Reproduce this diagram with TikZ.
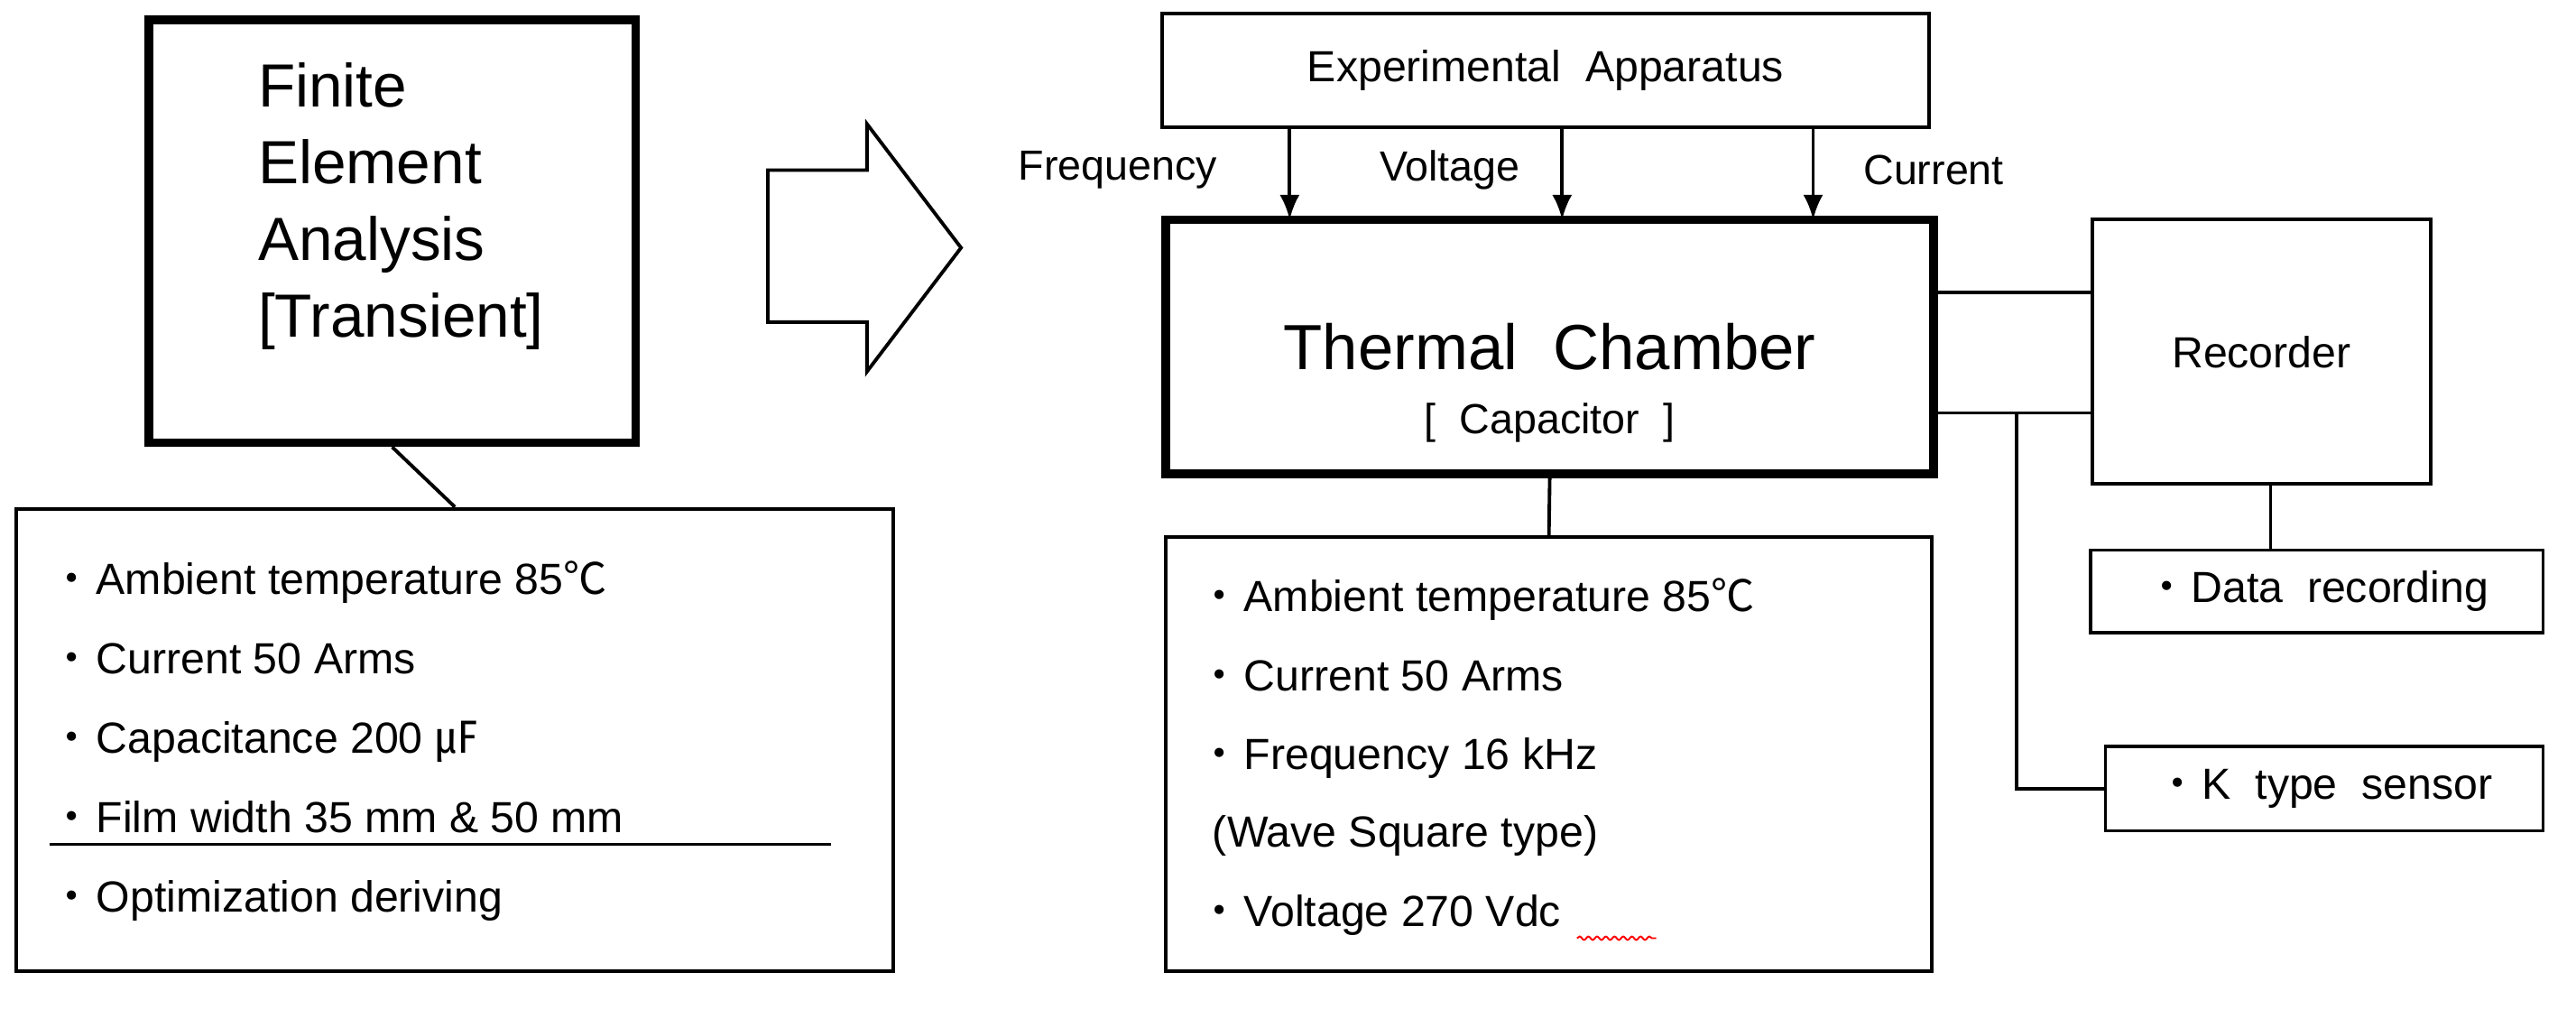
\documentclass[tikz,border=0pt]{standalone}
\usepackage{fontspec}
\setmainfont{Liberation Sans}
\newfontfamily\cjk{Noto Sans CJK KR}
\usetikzlibrary{arrows.meta,decorations.pathmorphing}
\newcommand{\bul}{\makebox[0.56cm][l]{\cjk ・}}
\tikzset{
  box/.style={draw, line width=1.2pt, inner sep=0pt},
  thickbox/.style={draw, line width=3pt, inner sep=0pt},
  item/.style={anchor=base west, inner sep=0pt, font=\fontsize{15}{18}\selectfont},
  lbl/.style={font=\fontsize{14.5}{17}\selectfont},
  feed/.style={line width=1.2pt, -{Latex[length=3mm,width=2.4mm]}},
  link/.style={line width=1.2pt}
}
\begin{document}
\begin{tikzpicture}
  \useasboundingbox (0,0) rectangle (31.2,-12.44);

  % left side
  \node[thickbox, minimum width=5.9cm, minimum height=5.12cm] (fea) at (4.75,-2.8) {};
  \node[anchor=north west, align=left, inner sep=0pt,
        font=\fontsize{21}{26.5}\selectfont] (featxt) at (3.12,-0.75)
        {Finite\\Element\\Analysis\\{}[Transient]};
  \node[box, minimum width=10.62cm, minimum height=5.6cm] (simlist) at (5.51,-8.96) {};
  \draw[link] (fea.south) -- (simlist.north);
  \foreach \t [count=\i] in {Ambient temperature 85{\cjk ℃},Current 50 Arms,
      Capacitance 200 {\cjk ㎌},Film width 35 mm \& 50 mm,Optimization deriving}
    \node[item] (s\i) at (0.6,{-7.2-0.96*(\i-1)}) {\bul\t};
  \draw[line width=1pt] (0.6,-10.22) -- (10.06,-10.22);

  % big arrow
  \draw[line width=1.2pt] (9.3,-2.06) -- (10.5,-2.06) -- (10.5,-1.5) -- (11.64,-3.0)
    -- (10.5,-4.5) -- (10.5,-3.9) -- (9.3,-3.9) -- cycle;

  % right side
  \node[box, minimum width=9.28cm, minimum height=1.38cm,
        font=\fontsize{15}{18}\selectfont] (app) at (18.72,-0.85) {Experimental\ \ Apparatus};
  \node[thickbox, minimum width=9.3cm, minimum height=3.08cm] (chamber) at (18.77,-4.2) {};
  \node[font=\fontsize{22}{26}\selectfont] (chtitle) at (18.77,-4.2) {Thermal\ \ Chamber};
  \node[lbl] (chsub) at (18.77,-5.12) {[\ \ Capacitor\ \ ]};
  \draw[feed] (15.62,-1.54) -- (15.62,-2.66);
  \draw[feed] (18.92,-1.54) -- (18.92,-2.66);
  \draw[feed] (21.96,-1.54) -- (21.96,-2.66);
  \node[lbl] (lfreq) at (13.54,-2.06) {Frequency};
  \node[lbl] (lvolt) at (17.56,-2.06) {Voltage};
  \node[lbl] (lcurr) at (23.42,-2.06) {Current};

  \node[box, minimum width=9.28cm, minimum height=5.26cm] (explist) at (18.76,-9.13) {};
  \draw[link] (chamber.south) -- (explist.north);
  \foreach \t/\y in {\bul Ambient temperature 85{\cjk ℃}/-7.4, \bul Current 50 Arms/-8.36,
      \bul Frequency 16 kHz/-9.32, \hspace{0.18cm}(Wave Square type)/-10.26, \bul Voltage 270 Vdc/-11.22}
    \node[item] at (14.5,\y) {\t};
  \draw[red, line width=0.6pt, decorate, decoration={snake, amplitude=0.6pt, segment length=3pt}]
    (19.1,-11.36) -- (20.06,-11.36);

  \node[box, minimum width=4.1cm, minimum height=3.2cm,
        font=\fontsize{15}{18}\selectfont] (rec) at (27.39,-4.26) {Recorder};
  \node[box, minimum width=5.48cm, minimum height=1.0cm,
        font=\fontsize{15}{18}\selectfont] (data) at (28.06,-7.16) {\bul Data\ \ recording};
  \node[box, minimum width=5.3cm, minimum height=1.02cm,
        font=\fontsize{15}{18}\selectfont] (ksens) at (28.15,-9.55) {\bul K\ \ type\ \ sensor};
  \draw[link] (chamber.east |- 0,-3.54) -- (rec.west |- 0,-3.54);
  \draw[link] (chamber.east |- 0,-5.0) -- (rec.west |- 0,-5.0);
  \draw[link] (24.42,-5.0) -- (24.42,-9.55) -- (ksens.west);
  \draw[link] (27.5,-5.86) -- (27.5,-6.66);
\end{tikzpicture}
\end{document}
